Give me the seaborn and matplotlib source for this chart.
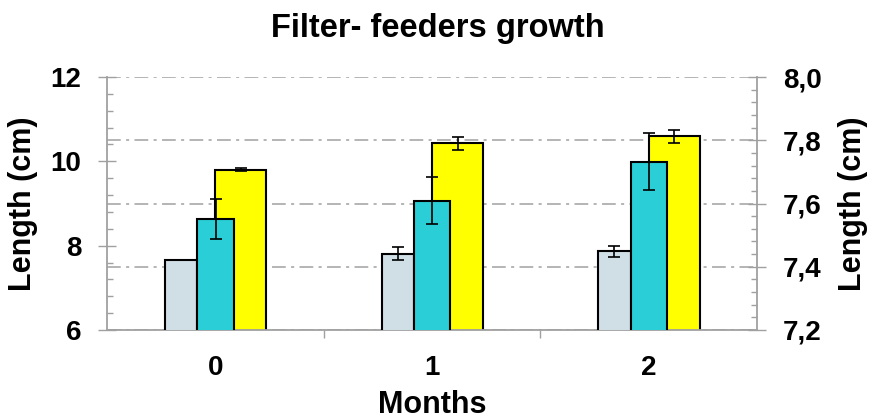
import numpy as np
import pandas as pd
import matplotlib
matplotlib.use("Agg")
import matplotlib.pyplot as plt
from matplotlib.ticker import FixedLocator, FuncFormatter, MultipleLocator
import seaborn as sns

# Sampling times (months) and tick labels
months = [0, 1, 2]
month_labels = ["0", "1", "2"]

# Series on the left axis (cm)
grey_len = [7.66, 7.81, 7.87]
grey_err = [0.01, 0.15, 0.13]
cyan_len = [8.63, 9.07, 9.99]
cyan_err = [0.48, 0.55, 0.68]

# Series on the right axis (cm)
yellow_len = [7.707, 7.790, 7.812]
yellow_err = [0.005, 0.02, 0.02]

GREY = "#D0DEE6"
CYAN = "#29CED6"
YELLOW = "#FFFF00"
AXIS_GREY = "#A0A0A0"

sns.set_theme(style="white")
plt.rcParams["font.family"] = ["Liberation Sans", "DejaVu Sans"]
plt.rcParams["font.weight"] = "bold"
plt.rcParams["text.color"] = "black"
plt.rcParams["axes.labelcolor"] = "black"
plt.rcParams["axes.labelweight"] = "bold"

fig = plt.figure(figsize=(8.72, 4.2), dpi=100)
ax = fig.add_axes([107 / 872, 1 - 330 / 420, 650 / 872, 253 / 420])
ax2 = ax.twinx()
ax.set_zorder(2)
ax.patch.set_visible(False)
ax2.set_zorder(1)


def bars(axis, vals, errs, offset, width, color):
    df = pd.DataFrame({"month": np.array(months, dtype=float) + offset, "length": vals})
    before = len(axis.patches)
    sns.barplot(data=df, x="month", y="length", native_scale=True, width=width,
                color=color, saturation=1, edgecolor="black", linewidth=1.5,
                errorbar=None, ax=axis, zorder=3)
    for patch in axis.patches[before:]:
        patch.set_edgecolor("black")
        patch.set_linewidth(1.5)
    axis.errorbar(df["month"], df["length"], yerr=errs, fmt="none", ecolor="black",
                  elinewidth=1.2, capsize=4.5, capthick=1.2, zorder=6)


bars(ax2, yellow_len, yellow_err, 0.118, 0.236, YELLOW)
bars(ax, grey_len, grey_err, -0.158, 0.150, GREY)
bars(ax, cyan_len, cyan_err, 0.001, 0.168, CYAN)

ax.set_xlim(-0.5, 2.5)
ax2.set_xlim(-0.5, 2.5)
ax.set_ylim(6, 12)
ax2.set_ylim(7.2, 8.0)

# dash-dot gridlines following the right-hand scale
ax2.set_axisbelow(True)
ax2.yaxis.grid(True, color=AXIS_GREY, linestyle=(0, (9, 3.5, 2, 3.5)), linewidth=1.1)
ax.grid(False)

# spines
for s in ["top", "right"]:
    ax.spines[s].set_visible(False)
for s in ["left", "bottom"]:
    ax.spines[s].set_color(AXIS_GREY)
    ax.spines[s].set_linewidth(1.3)
for s in ["top", "left", "bottom"]:
    ax2.spines[s].set_visible(False)
ax2.spines["right"].set_color(AXIS_GREY)
ax2.spines["right"].set_linewidth(1.3)

# left ticks
ax.yaxis.set_major_locator(MultipleLocator(2))
ax.yaxis.set_minor_locator(MultipleLocator(0.4))
ax.tick_params(axis="y", which="major", left=True, direction="inout", length=13,
               width=1, color=AXIS_GREY, pad=12, labelsize=20, labelcolor="black")
ax.tick_params(axis="y", which="minor", left=True, direction="in", length=4.5,
               width=1, color=AXIS_GREY)

# right ticks
ax2.yaxis.set_major_locator(MultipleLocator(0.2))
ax2.yaxis.set_minor_locator(MultipleLocator(0.04))
ax2.yaxis.set_major_formatter(FuncFormatter(lambda v, p: f"{v:.1f}".replace(".", ",")))
ax2.tick_params(axis="y", which="major", right=True, direction="inout", length=13,
                width=1, color=AXIS_GREY, pad=12, labelsize=20, labelcolor="black")
ax2.tick_params(axis="y", which="minor", right=True, direction="in", length=4.5,
                width=1, color=AXIS_GREY)

# bottom ticks: labels at months, marks between them
ax.xaxis.set_major_locator(FixedLocator(months))
ax.set_xticklabels(month_labels)
ax.xaxis.set_minor_locator(FixedLocator([0.5, 1.5]))
ax.tick_params(axis="x", which="major", bottom=True, length=0, pad=18,
               labelsize=20, labelcolor="black")
ax.tick_params(axis="x", which="minor", bottom=True, direction="out", length=6,
               width=1, color=AXIS_GREY)

for lab in ax.get_yticklabels() + ax2.get_yticklabels() + ax.get_xticklabels():
    lab.set_fontweight("bold")

ax.set_xlabel("Months", fontsize=22, fontweight="bold")
ax.xaxis.set_label_coords(0.5, (330 - 405) / 253)
ax.xaxis.label.set_va("center")

ax.set_ylabel("Length (cm)", fontsize=22, fontweight="bold")
ax.yaxis.set_label_coords((23 - 107) / 650, 0.5)
ax.yaxis.label.set_va("center")

ax2.set_ylabel("Length (cm)", fontsize=22, fontweight="bold")
ax2.yaxis.set_label_coords((853 - 107) / 650, 0.5)
ax2.yaxis.label.set_va("center")

fig.text(438 / 872, 1 - 29 / 420, "Filter- feeders growth", ha="center", va="center",
         fontsize=23.5, fontweight="bold")

fig.savefig("out.png", dpi=100)
